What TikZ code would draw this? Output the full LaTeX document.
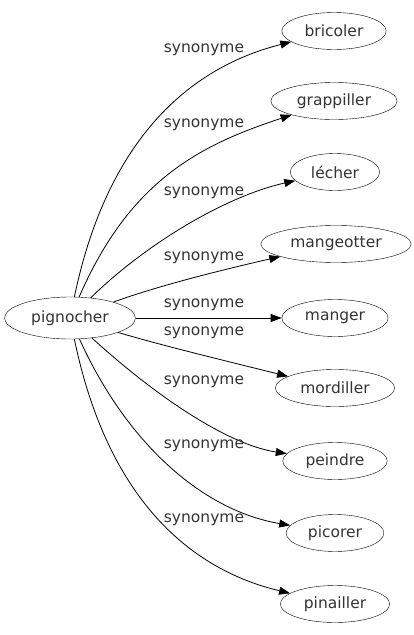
\documentclass[tikz,border=0pt]{standalone}
\usepackage{fontspec}
\setmainfont{DejaVu Sans}
\usetikzlibrary{shapes.geometric,arrows.meta}
\begin{document}
\begin{tikzpicture}[x=1pt,y=-1pt,
  word/.style={draw, ellipse, inner xsep=7.5pt, inner ysep=0pt, minimum height=37pt, font=\fontsize{15.5}{16}\selectfont, text=black!80},
  root/.style={word, minimum height=42pt},
  edge/.style={draw, line width=0.8pt, -{Triangle[length=11pt,width=8pt]}},
  lbl/.style={font=\fontsize{15.5}{16}\selectfont, text=black!80, inner sep=0pt}]
\useasboundingbox (0,0) rectangle (413,635);
\node[root] (p) at (70,318) {pignocher};
\node[word] (b1) at (334,31) {bricoler};
\node[word] (b2) at (334,101) {grappiller};
\node[word] (b3) at (335,172) {lécher};
\node[word] (b4) at (336,244) {mangeotter};
\node[word] (b5) at (335,318) {manger};
\node[word] (b6) at (335,388) {mordiller};
\node[word] (b7) at (335,461) {peindre};
\node[word] (b8) at (335,533) {picorer};
\node[word] (b9) at (335,604) {pinailler};
\draw[edge] (p) .. controls (105,150) and (180,70) .. (b1) node[lbl, at={(204,50)}] {synonyme};
\draw[edge] (p) .. controls (130,180) and (200,145) .. (b2) node[lbl, at={(204,125)}] {synonyme};
\draw[edge] (p) .. controls (150,240) and (230,195) .. (b3) node[lbl, at={(204,193)}] {synonyme};
\draw[edge] (p) .. controls (160,285) and (230,268) .. (b4) node[lbl, at={(204,258)}] {synonyme};
\draw[edge] (p) -- (b5) node[lbl, at={(204,305)}] {synonyme};
\draw[edge] (p) .. controls (160,345) and (230,362) .. (b6) node[lbl, at={(204,333)}] {synonyme};
\draw[edge] (p) .. controls (160,400) and (230,445) .. (b7) node[lbl, at={(204,382)}] {synonyme};
\draw[edge] (p) .. controls (125,440) and (200,510) .. (b8) node[lbl, at={(204,446)}] {synonyme};
\draw[edge] (p) .. controls (105,487) and (180,567) .. (b9) node[lbl, at={(204,520)}] {synonyme};
\end{tikzpicture}
\end{document}
